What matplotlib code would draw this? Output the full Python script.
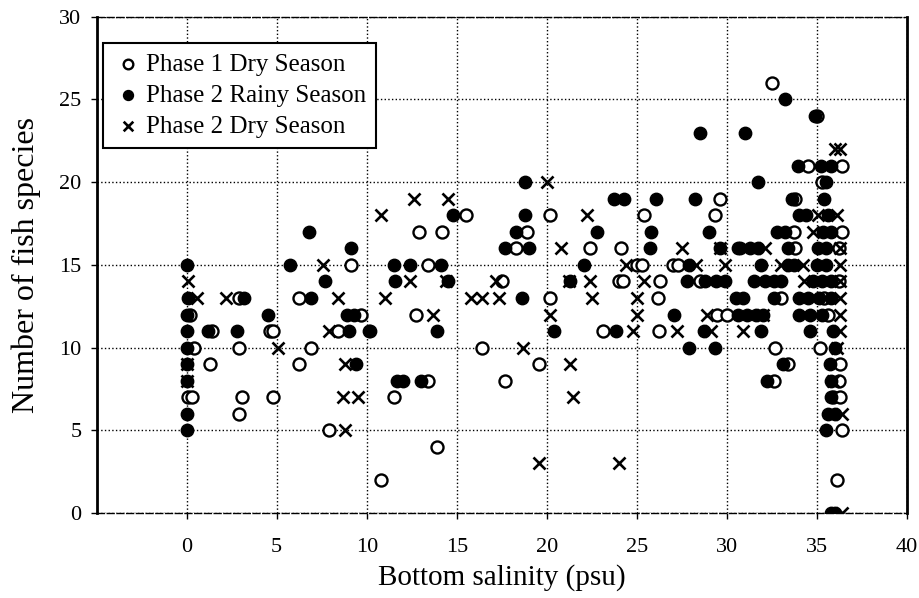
import matplotlib.pyplot as plt

# Phase 1 Dry Season (open circles)
p1_x = [0.4, 0.1, 0.3, 0.2, 1.4, 1.3, 2.9, 2.9, 3.05, 2.9, 4.6, 4.8, 4.8, 6.25, 6.9, 6.25,
        7.9, 8.4, 9.1, 9.7, 13.4, 12.9, 14.2, 15.5, 12.75, 13.4, 11.5, 13.9, 10.8, 17.5,
        16.4, 17.7, 19.55, 20.2, 18.9, 18.3, 20.2, 29.6, 25.4, 29.35, 22.4, 24.1, 25.0,
        25.3, 27.0, 27.3, 24.0, 24.2, 26.3, 28.5, 26.15, 29.45, 30.0, 23.1, 26.2, 32.5,
        35.0, 34.5, 36.4, 35.3, 33.8, 33.7, 36.4, 36.2, 33.8, 33.0, 35.6, 32.65, 35.15,
        33.4, 36.3, 32.6, 36.2, 35.9, 36.3, 36.4, 36.1, 36.2, 35.4]
p1_y = [10, 7, 7, 12, 11, 9, 13, 10, 7, 6, 11, 11, 7, 13, 10, 9,
        5, 11, 15, 12, 15, 17, 17, 18, 12, 8, 7, 4, 2, 14,
        10, 8, 9, 18, 17, 16, 13, 19, 18, 18, 16, 16, 15,
        15, 15, 15, 14, 14, 14, 14, 13, 12, 12, 11, 11, 26,
        24, 21, 21, 20, 19, 17, 17, 16, 16, 13, 12, 10, 10,
        9, 9, 8, 8, 7, 7, 5, 2, 14, 13]

# Phase 2 Rainy Season (filled circles)
p2r_x = [0.0, 0.1, 0.0, 0.0, 0.0, 0.0, 0.0, 0.0, 0.0, 1.2, 2.8, 3.2, 4.5, 5.75, 6.8, 7.7,
         6.9, 8.9, 9.3, 9.0, 10.1, 9.1, 9.4, 11.5, 12.4, 14.1, 14.8, 11.55, 14.5, 10.2,
         13.9, 11.7, 12.0, 13.0, 18.8, 18.8, 18.3, 17.7, 19.0, 18.6, 20.4, 23.7, 24.3,
         26.05, 28.25, 22.8, 25.8, 29.0, 25.7, 29.6, 30.6, 22.05, 27.9, 21.3, 27.8, 28.8,
         29.4, 29.9, 30.5, 27.05, 30.6, 23.85, 28.7, 27.9, 29.35, 33.2, 34.9, 28.5, 31.0,
         33.95, 35.2, 35.8, 31.7, 35.5, 33.6, 35.4, 34.0, 34.4, 35.6, 32.75, 33.2, 35.35,
         35.8, 30.7, 31.3, 31.7, 33.4, 35.05, 35.5, 31.9, 33.4, 33.7, 35.0, 35.5, 31.5,
         32.1, 32.6, 33.0, 34.8, 35.3, 35.8, 30.9, 32.6, 34.0, 34.5, 35.1, 35.8, 31.1,
         31.6, 32.0, 34.0, 34.6, 35.3, 31.9, 34.6, 35.9, 36.0, 33.1, 35.7, 32.2, 35.8,
         35.8, 35.6, 36.0, 35.5, 35.8, 36.0]
p2r_y = [15, 13, 12, 11, 10, 9, 8, 6, 5, 11, 11, 13, 12, 15, 17, 14,
         13, 12, 12, 11, 11, 16, 9, 15, 15, 15, 18, 14, 14, 11,
         11, 8, 8, 8, 20, 18, 17, 16, 16, 13, 11, 19, 19,
         19, 19, 17, 17, 17, 16, 16, 16, 15, 15, 14, 14, 14,
         14, 14, 13, 12, 12, 11, 11, 10, 10, 25, 24, 23, 23,
         21, 21, 21, 20, 20, 19, 19, 18, 18, 18, 17, 17, 17,
         17, 16, 16, 16, 16, 16, 16, 15, 15, 15, 15, 15, 14,
         14, 14, 14, 14, 14, 14, 13, 13, 13, 13, 13, 13, 12,
         12, 12, 12, 12, 12, 11, 11, 11, 10, 9, 9, 8, 8,
         7, 6, 6, 5, 0, 0]

# Phase 2 Dry Season (crosses)
p2d_x = [0.1, 0.6, 0.0, 0.0, 2.2, 5.05, 7.55, 8.4, 7.9, 8.8, 8.7, 9.5, 8.8,
         12.6, 14.5, 10.8, 12.4, 14.4, 11.0, 13.7, 17.2, 15.8, 16.4, 17.35, 18.7, 19.55,
         20.0, 20.2, 22.2, 20.8, 27.5, 24.4, 28.3, 29.9, 21.2, 22.4, 25.4, 22.5, 25.0,
         25.0, 28.9, 24.8, 27.25, 29.1, 30.9, 21.3, 21.45, 24.0, 29.6, 32.1, 36.0, 36.25,
         35.05, 36.1, 34.8, 33.0, 34.2, 36.3, 34.3, 36.3, 36.3, 32.0, 36.3, 36.3, 36.1,
         35.9, 36.4, 36.4, 36.3]
p2d_y = [14, 13, 9, 8, 13, 10, 15, 13, 11, 9, 7, 7, 5,
         19, 19, 18, 14, 14, 13, 12, 14, 13, 13, 13, 10, 3,
         20, 12, 18, 16, 16, 15, 15, 15, 14, 14, 14, 13, 13,
         12, 12, 11, 11, 11, 11, 9, 7, 3, 16, 16, 22, 22,
         18, 18, 17, 15, 15, 15, 14, 14, 13, 12, 12, 11, 10,
         8, 6, 0, 16]

x_ticks = [0, 5, 10, 15, 20, 25, 30, 35, 40]
y_ticks = [0, 5, 10, 15, 20, 25, 30]

plt.rcParams["font.family"] = ["Liberation Serif", "DejaVu Serif"]

fig = plt.figure(figsize=(9.2, 5.98), dpi=100)
ax = fig.add_axes([0.105, 0.142, 0.881, 0.830])

ax.scatter(p1_x, p1_y, s=75, facecolors="white", edgecolors="black",
           linewidths=1.7, label="Phase 1 Dry Season", zorder=3)
ax.scatter(p2r_x, p2r_y, s=80, color="black", label="Phase 2 Rainy Season", zorder=3)
ax.scatter(p2d_x, p2d_y, s=75, marker="x", color="black", linewidths=1.9,
           label="Phase 2 Dry Season", zorder=3)

ax.set_xlim(-5, 40)
ax.set_ylim(0, 30)
ax.set_xticks(x_ticks)
ax.set_yticks(y_ticks)
ax.tick_params(labelsize=16, direction="out", length=4, width=1)
ax.tick_params(axis="x", pad=14)
ax.tick_params(axis="y", pad=7)
ax.grid(True, linestyle=":", color="black", linewidth=1)
ax.set_axisbelow(True)

for side in ["left", "right"]:
    ax.spines[side].set_linewidth(2)
for side in ["top", "bottom"]:
    ax.spines[side].set_linewidth(1)
    ax.spines[side].set_linestyle((0, (5, 2)))

ax.set_xlabel("Bottom salinity (psu)", fontsize=21, labelpad=5)
ax.set_ylabel("Number of fish species", fontsize=23, labelpad=13)

leg = ax.legend(loc="upper left", bbox_to_anchor=(103 / 920, 1 - 43 / 598),
                bbox_transform=fig.transFigure, borderaxespad=0, fontsize=18,
                frameon=True, fancybox=False, edgecolor="black", framealpha=1,
                handletextpad=0.1, borderpad=0.4, labelspacing=0.35,
                markerscale=0.8, handlelength=1.2)
leg.get_frame().set_linewidth(1.5)

fig.savefig("out.png", dpi=100)
